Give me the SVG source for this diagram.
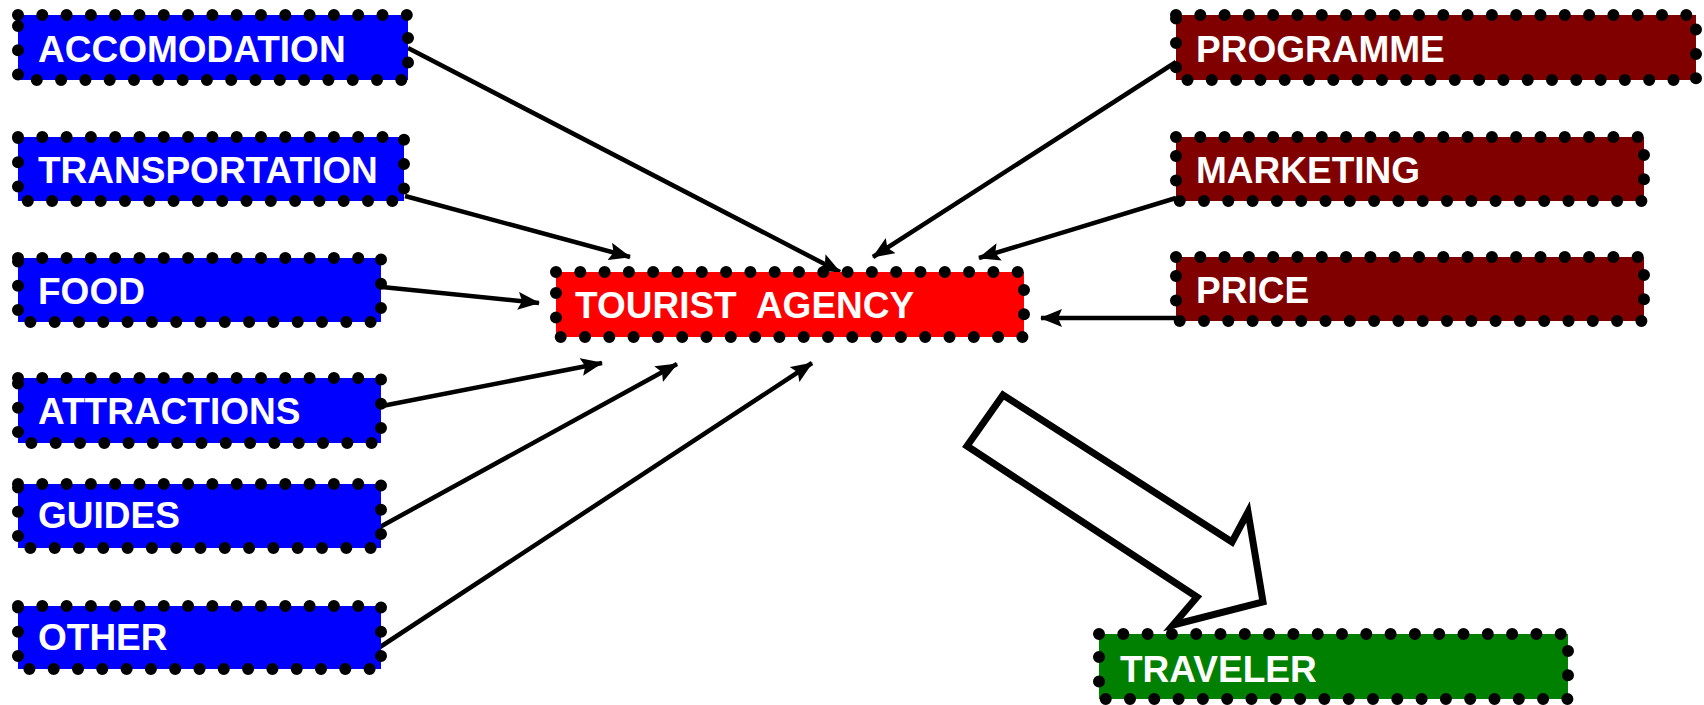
<svg xmlns="http://www.w3.org/2000/svg" width="1704" height="705" viewBox="0 0 1704 705">
<style>
.dots{stroke:#000;stroke-width:12;stroke-dasharray:0 24.3;stroke-linecap:round}
.blue{fill:#0000FF}.red{fill:#FF0000}.maroon{fill:#800000}.green{fill:#008000}
.lbl{font-family:"Liberation Sans",Arial,sans-serif;font-weight:bold;font-size:37px;fill:#fff;white-space:pre}
.conn{stroke:#000;stroke-width:4.5;fill:none}
</style>
<defs>
<marker id="ah" markerUnits="userSpaceOnUse" markerWidth="22" markerHeight="18" viewBox="0 0 22 18" refX="21" refY="9" orient="auto">
<path d="M0,0 L22,9 L0,18 L4,9 z" fill="#000"/>
</marker>
</defs>
<rect width="1704" height="705" fill="#fff"/>
<g id="connectors">
<line class="conn" x1="408" y1="48" x2="840" y2="272" marker-end="url(#ah)"/>
<line class="conn" x1="405" y1="196" x2="630" y2="257" marker-end="url(#ah)"/>
<line class="conn" x1="382" y1="287" x2="539" y2="303" marker-end="url(#ah)"/>
<line class="conn" x1="382" y1="406" x2="602" y2="363" marker-end="url(#ah)"/>
<line class="conn" x1="380" y1="527" x2="677" y2="364" marker-end="url(#ah)"/>
<line class="conn" x1="380" y1="647" x2="812" y2="363" marker-end="url(#ah)"/>
<line class="conn" x1="1176" y1="62" x2="873" y2="257" marker-end="url(#ah)"/>
<line class="conn" x1="1176" y1="198" x2="979" y2="258" marker-end="url(#ah)"/>
<line class="conn" x1="1176" y1="318" x2="1041" y2="318" marker-end="url(#ah)"/>
<polygon id="big-arrow" points="1003,395 967,446 1197,597 1173,625 1263,602 1248,512 1232,542" fill="#fff" stroke="#000" stroke-width="7" stroke-linejoin="miter"/>
</g>
<g id="accomodation"><rect class="blue dots" x="18" y="15" width="390" height="65"/><text class="lbl" x="38" y="62">ACCOMODATION</text></g>
<g id="transportation"><rect class="blue dots" x="18" y="137" width="386" height="64"/><text class="lbl" x="38" y="183">TRANSPORTATION</text></g>
<g id="food"><rect class="blue dots" x="18" y="258" width="363" height="64"/><text class="lbl" x="38" y="304">FOOD</text></g>
<g id="attractions"><rect class="blue dots" x="18" y="378" width="363" height="65"/><text class="lbl" x="38" y="424">ATTRACTIONS</text></g>
<g id="guides"><rect class="blue dots" x="18" y="484" width="363" height="64"/><text class="lbl" x="38" y="528">GUIDES</text></g>
<g id="other"><rect class="blue dots" x="18" y="606" width="363" height="63"/><text class="lbl" x="38" y="650">OTHER</text></g>
<g id="tourist-agency"><rect class="red dots" x="556" y="272" width="468" height="65"/><text class="lbl" x="575" y="318">TOURIST  AGENCY</text></g>
<g id="programme"><rect class="maroon dots" x="1176" y="15" width="520" height="65"/><text class="lbl" x="1196" y="62">PROGRAMME</text></g>
<g id="marketing"><rect class="maroon dots" x="1176" y="137" width="468" height="64"/><text class="lbl" x="1196" y="183">MARKETING</text></g>
<g id="price"><rect class="maroon dots" x="1176" y="257" width="468" height="64"/><text class="lbl" x="1196" y="303">PRICE</text></g>
<g id="traveler"><rect class="green dots" x="1099" y="634" width="469" height="65"/><text class="lbl" x="1120" y="682">TRAVELER</text></g>
</svg>
